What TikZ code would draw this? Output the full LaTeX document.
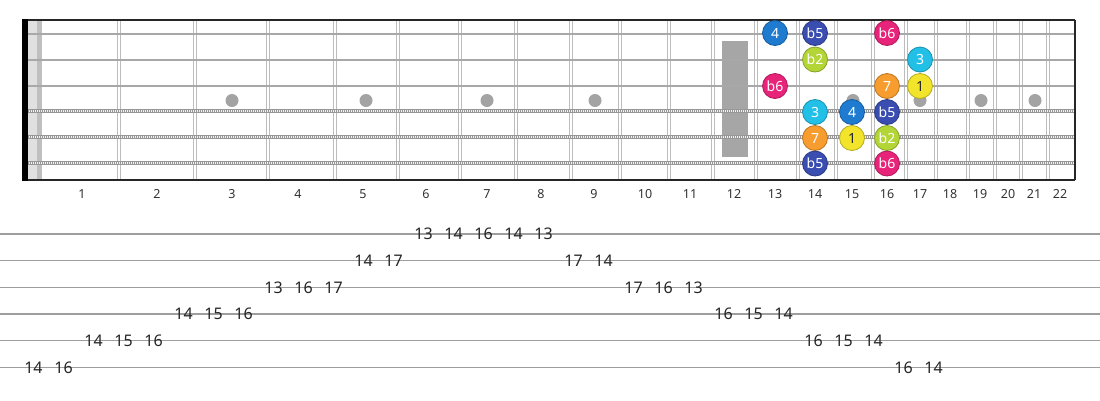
\documentclass[tikz,border=0pt]{standalone}
\usepackage{fontspec}
\setmainfont{Noto Sans}
\begin{document}
\definecolor{cfour}{HTML}{1E7BD0}
\definecolor{cfive}{HTML}{3A4DB0}
\definecolor{ctwo}{HTML}{B3D636}
\definecolor{cthree}{HTML}{22C0E6}
\definecolor{cseven}{HTML}{F79C2E}
\definecolor{cone}{HTML}{F2E42A}
\definecolor{csix}{HTML}{E8237A}
\definecolor{fretc}{HTML}{BDBDBD}
\definecolor{strc}{HTML}{A8A8A8}
\definecolor{tabc}{HTML}{9E9E9E}
\definecolor{dotc}{HTML}{A3A3A3}
\begin{tikzpicture}[x=1pt,y=-1pt,
  fretline/.style={draw=fretc,line width=1pt},
  plainstr/.style={draw=strc,line width=2pt},
  woundstr/.style={draw=strc!90!black,line width=3.6pt},
  woundtex/.style={draw=white!85!strc,line width=1.6pt,dash pattern=on 1pt off 1pt},
  inlay/.style={circle,fill=dotc,minimum size=13pt,inner sep=0pt},
  fretnum/.style={font=\fontsize{12.5}{13}\selectfont,text=black!80,inner sep=0pt},
  tabnum/.style={font=\fontsize{16}{16}\selectfont,text=black!85,inner sep=0pt},
  note/.style={circle,minimum size=25pt,inner sep=0pt,text=white,line width=0.8pt,
    font=\fontsize{14}{14}\selectfont,fill=#1,draw=#1!75!black},
  notedark/.style={note=#1,text=black!85}
]
\useasboundingbox (0,0) rectangle (1100,400);
\fill[white] (0,0) rectangle (1100,400);
% nut area
\fill[black!12] (27.7,20) rectangle (36.7,180);
\fill[black!25] (36.7,20) rectangle (41.5,180);
% frets
\foreach \f in {119,195,268,335,398,460,516,571,620,669,713,756,798,836,873,906,936,968,995,1021,1048}{
  \draw[fretline] (\f-1.6,20) -- (\f-1.6,180);
  \draw[fretline] (\f+1.6,20) -- (\f+1.6,180);
}
% inlays
\foreach \x/\n in {232/3,366/5,487/7,595/9,853/15,920/17,981/19,1035/21}{
  \node[inlay] (dot\n) at (\x,100.5) {};
}
\fill[black!35] (722,41) rectangle (748,157);
% strings
\foreach \y/\n in {34/1,60/2,86/3}{
  \coordinate (sL\n) at (27,\y); \coordinate (sR\n) at (1075,\y);
  \draw[plainstr] (sL\n) -- (sR\n);
}
\foreach \y/\n in {111/4,137/5,163/6}{
  \coordinate (sL\n) at (27,\y); \coordinate (sR\n) at (1075,\y);
  \draw[woundstr] (sL\n) -- (sR\n);
  \draw[woundtex] (sL\n) -- (sR\n);
}
% borders
\draw[black!85,line width=1.5pt] (23,20) -- (1075,20);
\draw[black!85,line width=1.5pt] (23,180) -- (1075,180);
\draw[black!85,line width=1.5pt] (1075,20) -- (1075,180);
\fill[black] (22.3,19.3) rectangle (27.5,180.7);
% fret numbers
\foreach \x/\n in {82/1,157/2,232/3,298/4,363/5,426/6,487/7,541/8,594/9,645/10,690/11,734/12,775/13,815/14,852/15,887/16,920/17,950/18,980/19,1008/20,1034/21,1060/22}{
  \node[fretnum] (fn\n) at (\x,194) {\n};
}
% notes
\node[note=cfour] (a1) at (775,33) {4};
\node[note=cfive] (a2) at (815,33) {b5};
\node[note=csix] (a3) at (887,33) {b6};
\node[note=ctwo] (b1) at (815,59.5) {b2};
\node[note=cthree] (b2) at (920,59.5) {3};
\node[note=csix] (c1) at (775,86) {b6};
\node[note=cseven] (c2) at (887,86) {7};
\node[notedark=cone] (c3) at (920,86) {1};
\node[note=cthree] (d1) at (815,112) {3};
\node[note=cfour] (d2) at (852,112) {4};
\node[note=cfive] (d3) at (887,112) {b5};
\node[note=cseven] (e1) at (815,138) {7};
\node[notedark=cone] (e2) at (852,138) {1};
\node[note=ctwo] (e3) at (887,138) {b2};
\node[note=cfive] (f1) at (815,163.5) {b5};
\node[note=csix] (f2) at (887,163.5) {b6};
% tab lines
\foreach \y/\n in {234/1,260.7/2,287.3/3,314/4,340.7/5,367.3/6}{
  \coordinate (tL\n) at (0,\y); \coordinate (tR\n) at (1100,\y);
  \draw[tabc,line width=1.5pt] (tL\n) -- (tR\n);
}
% tab numbers
\foreach \x/\y/\t [count=\i] in {
  33.5/367.3/14, 63.5/367.3/16,
  93.5/340.7/14, 123.5/340.7/15, 153.5/340.7/16,
  183.5/314/14, 213.5/314/15, 243.5/314/16,
  273.5/287.3/13, 303.5/287.3/16, 333.5/287.3/17,
  363.5/260.7/14, 393.5/260.7/17,
  423.5/234/13, 453.5/234/14, 483.5/234/16, 513.5/234/14, 543.5/234/13,
  573.5/260.7/17, 603.5/260.7/14,
  633.5/287.3/17, 663.5/287.3/16, 693.5/287.3/13,
  723.5/314/16, 753.5/314/15, 783.5/314/14,
  813.5/340.7/16, 843.5/340.7/15, 873.5/340.7/14,
  903.5/367.3/16, 933.5/367.3/14}{
  \node[tabnum] (t\i) at (\x,\y) {\t};
}
\end{tikzpicture}
\end{document}
